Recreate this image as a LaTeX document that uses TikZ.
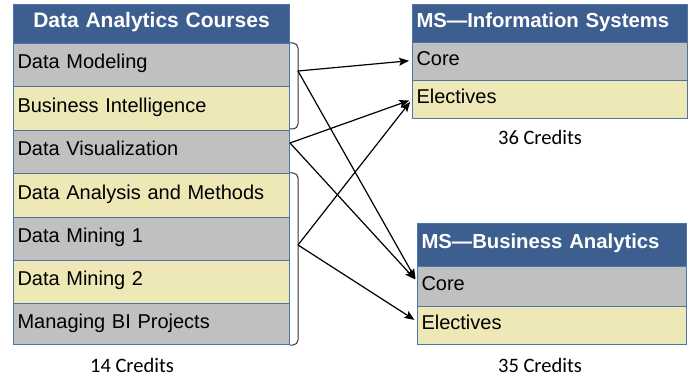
\documentclass[tikz,border=0pt]{standalone}
\usepackage{fontspec}
\setmainfont{Liberation Sans}
\newfontfamily\credfont{Carlito}
\usetikzlibrary{arrows.meta}
\definecolor{hdblue}{RGB}{60,95,143}
\definecolor{edblue}{RGB}{79,116,168}
\definecolor{rowgray}{RGB}{192,192,192}
\definecolor{rowcream}{RGB}{237,232,181}
\newcommand{\wl}{268pt}
\newcommand{\wis}{267pt}
\newcommand{\wba}{261pt}
\newcommand{\row}[7]{
	\node [cell, fill=#6, text width=#4, minimum height=#5] (#1) at (#2,#3) {#7};
	}
\newcommand{\head}[7]{
	\node [head, align=#7, text width=#4, minimum height=#5] (#1) at (#2,#3) {#6};
	}

\begin{document}
\begin{tikzpicture}[
      x=1pt, y=-1pt, %one unit is one pixel of the layout
      cell/.style={draw=edblue, line width=1pt, anchor=north west, inner xsep=4pt, inner ysep=0pt,
        align=left, text height=15pt, text depth=7pt, font=\fontsize{20}{24}\selectfont},
      head/.style={cell, fill=hdblue, text=white, font=\fontsize{20.3}{25}\selectfont\bfseries},
      link/.style={line width=1.2pt, -{Stealth[length=10pt,width=8pt,inset=2pt]}, shorten >=3pt},
      grp/.style={line width=1pt, draw=black!80, rounded corners=5pt},
      credits/.style={font=\credfont\fontsize{20.5}{24}\selectfont}
    ]
    \useasboundingbox (0,0) rectangle (689,377);
    % Draw the course table
    \head{courses}{13}{4}{\wl}{39pt}{\fontsize{21}{25}\selectfont Data Analytics Courses}{center};
    \row{model}{13}{43}{\wl}{43pt}{rowgray}{Data Modeling};
    \row{bi}{13}{86}{\wl}{44pt}{rowcream}{Business Intelligence};
    \row{viz}{13}{130}{\wl}{43pt}{rowgray}{Data Visualization};
    \row{analysis}{13}{173}{\wl}{44pt}{rowcream}{Data Analysis and Methods};
    \row{mining1}{13}{217}{\wl}{43pt}{rowgray}{Data Mining 1};
    \row{mining2}{13}{260}{\wl}{43pt}{rowcream}{Data Mining 2};
    \row{manage}{13}{303}{\wl}{41pt}{rowgray}{Managing BI Projects};
    % Draw the two programs
    \head{infosys}{412}{4}{\wis}{38pt}{MS---Information Systems}{left};
    \row{iscore}{412}{42}{\wis}{38pt}{rowgray}{Core};
    \row{iselect}{412}{80}{\wis}{38pt}{rowcream}{Electives};
    \head{busan}{417}{223}{\wba}{43pt}{MS---Business Analytics}{left};
    \row{bacore}{417}{266}{\wba}{40pt}{rowgray}{Core};
    \row{baelect}{417}{306}{\wba}{38pt}{rowcream}{Electives};
    % brackets round the course groups
    \draw [grp] (model.north east) -- ++(8,0) |- ([yshift=2pt]bi.south east);
    \draw [grp] (analysis.north east) -- ++(8,0) |- (manage.south east);
    \coordinate (grpA) at (298,71);
    \coordinate (grpB) at (298,245);
    % links to the programs
    \draw [link] (grpA) -- ([yshift=1pt]iscore.west);
    \draw [link] (grpA) -- ([yshift=5pt]bacore.west);
    \draw [link] ([yshift=9pt]viz.east) -- (iselect.west);
    \draw [link] ([yshift=9pt]viz.east) -- ([yshift=5pt]bacore.west);
    \draw [link] (grpB) -- (iselect.west);
    \draw [link] (grpB) -- ([yshift=4pt]baelect.west);
    % credits
    \node [credits] (lcred) at (132,365) {14 Credits};
    \node [credits] (iscred) at (540,137) {36 Credits};
    \node [credits] (bacred) at (540,365) {35 Credits};
\end{tikzpicture}
\end{document}
